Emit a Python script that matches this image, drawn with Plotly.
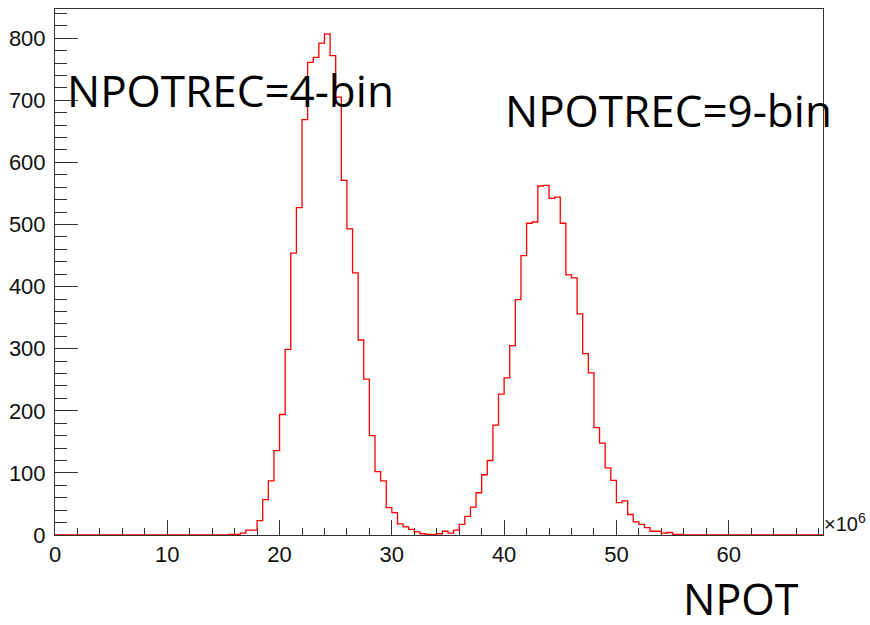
import numpy as np
import plotly.graph_objects as go

# Histogram binning (NPOT in units of 10^6)
bin_width = 0.5
first_edge = 15.5
x_max = 68.4

# Counts per bin, starting at first_edge
counts = [
    1, 1, 3, 8, 8, 23, 57, 87, 136, 194,
    299, 454, 527, 669, 761, 769, 792, 807, 772, 705,
    571, 493, 422, 314, 251, 160, 102, 87, 44, 36,
    18, 13, 9, 5, 2, 1, 1, 2, 6, 3,
    8, 17, 30, 45, 68, 97, 120, 177, 227, 253,
    305, 379, 450, 502, 504, 562, 563, 542, 544, 502,
    419, 414, 356, 292, 261, 173, 148, 108, 88, 52,
    55, 33, 21, 17, 12, 6, 6, 3, 4, 1,
    1,
]

x_tick_vals = [0, 10, 20, 30, 40, 50, 60]
y_tick_vals = [0, 100, 200, 300, 400, 500, 600, 700, 800]

labels = ["NPOTREC=4-bin", "NPOTREC=9-bin"]
x_title = "NPOT"

# Step outline: left edges of each bin, closed back to zero on the right
edges = first_edge + bin_width * np.arange(len(counts) + 1)
xs = [0.0] + list(edges) + [x_max]
ys = [0] + counts + [0, 0]

fig = go.Figure()
fig.add_trace(go.Scatter(
    x=xs, y=ys, mode="lines", line_shape="hv",
    line=dict(color="#ff0000", width=1.3),
    cliponaxis=False, hoverinfo="skip", showlegend=False,
))

label_family = "Liberation Sans"
big_font = dict(family="Open Sans", size=44, color="#000000")

common = dict(
    ticks="inside", tickwidth=1, tickcolor="#333333",
    showgrid=False, zeroline=False, showline=True, linecolor="#333333",
    linewidth=1, mirror=True,
    tickfont=dict(family=label_family, size=22, color="#111111"),
)

annotations = [
    dict(text=labels[0], x=0.013, y=0.846, xanchor="left", yanchor="middle", font=big_font),
    dict(text=labels[1], x=0.583, y=0.808, xanchor="left", yanchor="middle", font=big_font),
    dict(text=x_title, x=0.8157, y=-0.12, xanchor="left", yanchor="middle",
         font=dict(family="Open Sans", size=43, color="#000000")),
    dict(text="×10<sup>6</sup>", x=0.999, y=0.024, xanchor="left", yanchor="middle",
         font=dict(family=label_family, size=20, color="#111111")),
]
for a in annotations:
    a.update(xref="paper", yref="paper", showarrow=False)

fig.update_layout(
    width=870, height=625,
    margin=dict(l=55, r=47, t=9, b=90, pad=0),
    paper_bgcolor="white", plot_bgcolor="white",
    font=dict(family=label_family, size=22, color="#111111"),
    xaxis=dict(
        range=[0, x_max], tickvals=x_tick_vals, ticklen=15,
        minor=dict(ticks="inside", dtick=2, ticklen=7, tickcolor="#333333", tickwidth=1),
        layer="below traces", ticklabelstandoff=0, **common,
    ),
    yaxis=dict(
        range=[0, 847], tickvals=y_tick_vals, ticklen=23,
        minor=dict(ticks="inside", dtick=20, ticklen=12, tickcolor="#333333", tickwidth=1),
        ticklabelstandoff=4, **common,
    ),
    annotations=annotations,
)

fig.write_html("out.html")
